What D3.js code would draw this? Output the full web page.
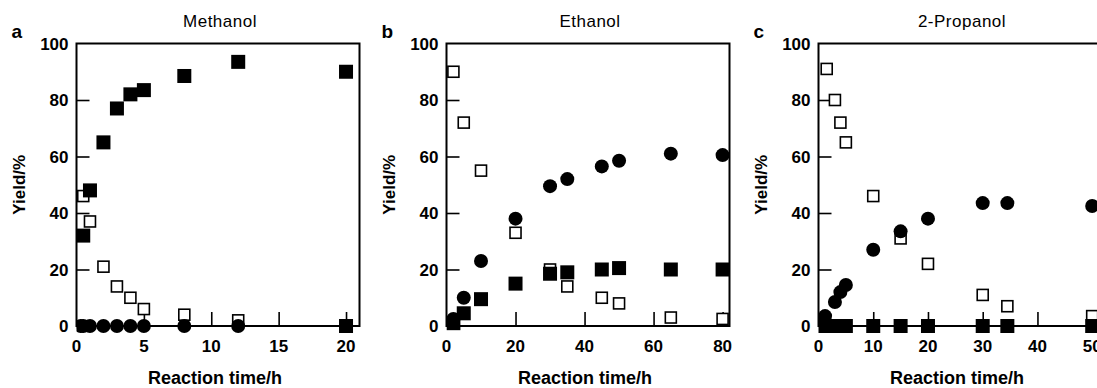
<!DOCTYPE html>
<html>
<head>
<meta charset="utf-8">
<script src="https://cdn.jsdelivr.net/npm/d3@7"></script>
<style>
  html, body { margin: 0; padding: 0; background: #fff; overflow: hidden; }
  svg { display: block; font-family: Arial, "Liberation Sans", sans-serif; }
</style>
</head>
<body>
<svg id="chart" width="1097" height="388"></svg>
<script>
// panel settings
const panelTitles = ["Methanol", "Ethanol", "2-Propanol"];
const panelLetters = ["a", "b", "c"];
const xMaxes = [21, 82, 51.7];
const xTickValues = [[0, 5, 10, 15, 20], [0, 20, 40, 60, 80], [0, 10, 20, 30, 40, 50]];
const yTickValues = [0, 20, 40, 60, 80, 100];

// a: Methanol  [time h, yield %]
const methOpen = [[0.5, 46], [1, 37], [2, 21], [3, 14], [4, 10], [5, 6], [8, 4], [12, 2], [20, 0]];
const methCircle = [[0.3, 0], [0.5, 0], [1, 0], [2, 0], [3, 0], [4, 0], [5, 0], [8, 0], [12, 0], [20, 0]];
const methFilled = [[0.5, 32], [1, 48], [2, 65], [3, 77], [4, 82], [5, 83.5], [8, 88.5], [12, 93.5], [20, 90], [20, 0]];

// b: Ethanol
const ethOpen = [[2, 90], [5, 72], [10, 55], [20, 33], [30, 20], [35, 14], [45, 10], [50, 8], [65, 3], [80, 2.5]];
const ethCircle = [[2, 2.5], [5, 10], [10, 23], [20, 38], [30, 49.5], [35, 52], [45, 56.5], [50, 58.5], [65, 61], [80, 60.5]];
const ethFilled = [[2, 1], [5, 4.5], [10, 9.5], [20, 15], [30, 18.5], [35, 19], [45, 20], [50, 20.5], [65, 20], [80, 20]];

// c: 2-Propanol
const propOpen = [[1.5, 91], [3, 80], [4, 72], [5, 65], [10, 46], [15, 31], [20, 22], [30, 11], [34.5, 7], [50, 3.5]];
const propCircle = [[1.2, 3.5], [3, 8.5], [4, 12], [5, 14.5], [10, 27], [15, 33.5], [20, 38], [30, 43.5], [34.5, 43.5], [50, 42.5]];
const propFilled = [[1, 0], [2, 0], [3, 0], [4, 0], [5, 0], [10, 0], [15, 0], [20, 0], [30, 0], [34.5, 0], [50, 0]];

const openSeries = [methOpen, ethOpen, propOpen];
const circleSeries = [methCircle, ethCircle, propCircle];
const filledSeries = [methFilled, ethFilled, propFilled];

const svg = d3.select("#chart");
const plotLefts = [76.5, 446.5, 818.5];
const plotW = 283, plotTop = 43.5, plotBottom = 326;
const tickLen = 13;

panelTitles.forEach((title, i) => {
  const x0 = plotLefts[i];
  const x = d3.scaleLinear().domain([0, xMaxes[i]]).range([x0, x0 + plotW]);
  const y = d3.scaleLinear().domain([0, 100]).range([plotBottom, plotTop]);
  const g = svg.append("g");

  // clip markers at left/right of the frame
  g.append("clipPath").attr("id", "clip" + i)
    .append("rect")
    .attr("x", x0).attr("y", plotTop - 10)
    .attr("width", plotW).attr("height", plotBottom - plotTop + 20);

  // inward ticks
  const yAxis = d3.axisRight(y).tickValues(yTickValues.filter(v => v > 0 && v < 100))
    .tickSize(tickLen).tickFormat("");
  g.append("g").attr("transform", `translate(${x0},0)`).call(yAxis)
    .call(s => s.select(".domain").remove())
    .selectAll("line").attr("stroke", "#000").attr("stroke-width", 1.6);

  const xAxis = d3.axisTop(x).tickValues(xTickValues[i].filter(v => v > 0))
    .tickSize(tickLen + 1).tickFormat("");
  g.append("g").attr("transform", `translate(0,${plotBottom})`).call(xAxis)
    .call(s => s.select(".domain").remove())
    .selectAll("line").attr("stroke", "#000").attr("stroke-width", 1.6);

  // markers
  const m = g.append("g").attr("clip-path", `url(#clip${i})`);
  const openSz = 11, fillSz = 14, circR = 7;
  m.selectAll("rect.open").data(openSeries[i]).join("rect")
    .attr("class", "open")
    .attr("x", d => x(d[0]) - openSz / 2).attr("y", d => y(d[1]) - openSz / 2)
    .attr("width", openSz).attr("height", openSz)
    .attr("fill", "#fff").attr("stroke", "#000").attr("stroke-width", 1.6);
  m.selectAll("circle").data(circleSeries[i]).join("circle")
    .attr("cx", d => x(d[0])).attr("cy", d => y(d[1])).attr("r", circR)
    .attr("fill", "#000");
  m.selectAll("rect.filled").data(filledSeries[i]).join("rect")
    .attr("class", "filled")
    .attr("x", d => x(d[0]) - fillSz / 2).attr("y", d => y(d[1]) - fillSz / 2)
    .attr("width", fillSz).attr("height", fillSz)
    .attr("fill", "#000");

  // frame
  g.append("rect")
    .attr("x", x0).attr("y", plotTop)
    .attr("width", plotW).attr("height", plotBottom - plotTop)
    .attr("fill", "none").attr("stroke", "#000").attr("stroke-width", 2);

  // tick labels
  g.selectAll("text.ylab").data(yTickValues).join("text")
    .attr("class", "ylab")
    .attr("x", x0 - 8).attr("y", d => y(d)).attr("dy", "0.36em")
    .attr("text-anchor", "end")
    .attr("font-size", 17).attr("font-weight", "bold")
    .text(d => d);
  g.selectAll("text.xlab").data(xTickValues[i]).join("text")
    .attr("class", "xlab")
    .attr("x", d => x(d)).attr("y", 352)
    .attr("text-anchor", "middle")
    .attr("font-size", 17).attr("font-weight", "bold")
    .text(d => d);

  // axis titles
  g.append("text")
    .attr("x", x0 + plotW / 2 - 3).attr("y", 384)
    .attr("text-anchor", "middle")
    .attr("font-size", 18).attr("font-weight", "bold")
    .text("Reaction time/h");
  g.append("text")
    .attr("transform", `translate(${x0 - 52},${(plotTop + plotBottom) / 2}) rotate(-90)`)
    .attr("text-anchor", "middle")
    .attr("font-size", 17).attr("font-weight", "bold")
    .text("Yield/%");

  // panel title and letter
  g.append("text")
    .attr("x", x0 + plotW / 2 + 2).attr("y", 26.5)
    .attr("text-anchor", "middle")
    .attr("font-size", 17).attr("letter-spacing", 0.5)
    .text(title);
  g.append("text")
    .attr("x", x0 - 65).attr("y", 38)
    .attr("font-size", 19).attr("font-weight", "bold")
    .text(panelLetters[i]);
});
</script>
</body>
</html>
